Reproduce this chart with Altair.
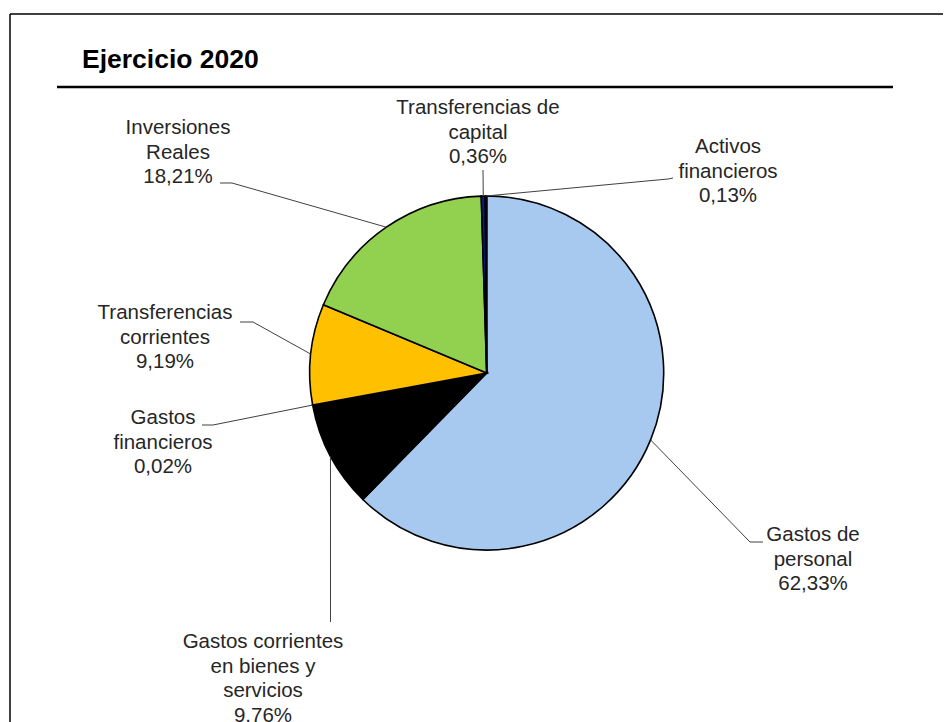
import math
import altair as alt
import pandas as pd

# ---- data ----
categories = [
    "Gastos de personal",
    "Gastos corrientes en bienes y servicios",
    "Gastos financieros",
    "Transferencias corrientes",
    "Inversiones Reales",
    "Transferencias de capital",
    "Activos financieros",
]
shares = [62.33, 9.76, 0.02, 9.19, 18.21, 0.36, 0.13]
label_lines = [
    ["Gastos de", "personal"],
    ["Gastos corrientes", "en bienes y", "servicios"],
    ["Gastos", "financieros"],
    ["Transferencias", "corrientes"],
    ["Inversiones", "Reales"],
    ["Transferencias de", "capital"],
    ["Activos", "financieros"],
]
colors = ["#A7C9EF", "#000000", "#7F7F7F", "#FFC000", "#92D050", "#0B1F8A", "#2E75B6"]
title_text = "Ejercicio 2020"

# ---- layout (view pixel units; view origin is the frame's top-left corner) ----
W, H = 933, 720
CX, CY, R = 476.7, 359.0, 177
# label first-line centres and leader elbow / end points per category
label_pos = [(803, 521), (253, 628), (153, 404), (155, 299), (168, 114), (468, 94), (718, 133)]
leader_pts = [
    [(740, 528), (753, 528)],
    [(320.5, 608), (320.5, 608)],
    [(203, 411), (192, 411)],
    [(243, 308), (230, 308)],
    [(222, 169), (210, 169)],
    [(473, 156), (473, 156)],
    [(658, 165), (663, 164)],
]

fmt = lambda v: f"{v:.2f}".replace(".", ",") + "%"

pie_df = pd.DataFrame({"cat": categories, "share": shares, "idx": range(len(categories))})

# leader lines: start on the slice edge at the slice's mid angle
rows = []
cum = 0.0
for i, (c, s) in enumerate(zip(categories, shares)):
    mid = (cum + s / 2) / 100 * 2 * math.pi
    cum += s
    sx = CX + R * math.sin(mid)
    sy = CY - R * math.cos(mid)
    pts = [(sx, sy)] + leader_pts[i]
    for k, (px, py) in enumerate(pts):
        rows.append({"cat": c, "k": k, "x": px, "y": py})
lead_df = pd.DataFrame(rows)

lab_df = pd.DataFrame({
    "cat": categories,
    "txt": ["\n".join(l + [fmt(s)]) for l, s in zip(label_lines, shares)],
    "x": [p[0] for p in label_pos],
    "y": [p[1] for p in label_pos],
})

xs = alt.Scale(domain=[0, W], nice=False, zero=False)
ys = alt.Scale(domain=[0, H], nice=False, zero=False, reverse=True)

frame_top = alt.Chart(alt.Data(values=[{}])).mark_rule(color="#000000", strokeWidth=1.5).encode(
    x=alt.value(0), x2=alt.value(W), y=alt.value(0)
)
frame_left = alt.Chart(alt.Data(values=[{}])).mark_rule(color="#000000", strokeWidth=1.5).encode(
    x=alt.value(0), y=alt.value(0), y2=alt.value(H)
)

pie = alt.Chart(pie_df).mark_arc(outerRadius=R, stroke="#000000", strokeWidth=1.6).encode(
    theta=alt.Theta("share:Q", stack=True),
    order=alt.Order("idx:Q"),
    color=alt.Color("cat:N", scale=alt.Scale(domain=categories, range=colors), legend=None),
    x=alt.value(CX),
    y=alt.value(CY),
)

leaders = alt.Chart(lead_df).mark_line(color="#404040", strokeWidth=1).encode(
    x=alt.X("x:Q", scale=xs, axis=None),
    y=alt.Y("y:Q", scale=ys, axis=None),
    detail="cat:N",
    order="k:Q",
)

labels = alt.Chart(lab_df).mark_text(
    font="Liberation Sans", fontSize=20.5, color="#262626", lineBreak="\n",
    lineHeight=24.5, align="center", baseline="middle",
).encode(
    x=alt.X("x:Q", scale=xs, axis=None),
    y=alt.Y("y:Q", scale=ys, axis=None),
    text="txt:N",
)

title = alt.Chart(alt.Data(values=[{"t": title_text}])).mark_text(
    font="Liberation Sans", fontSize=26.5, fontWeight="bold", color="#000000",
    align="left", baseline="alphabetic",
).encode(x=alt.value(72), y=alt.value(54), text="t:N")

title_rule = alt.Chart(alt.Data(values=[{}])).mark_rule(color="#000000", strokeWidth=2.5).encode(
    x=alt.value(47), x2=alt.value(883), y=alt.value(73)
)

chart = alt.layer(frame_top, frame_left, title_rule, title, pie, leaders, labels).properties(
    width=W, height=H,
    autosize=alt.AutoSizeParams(type="none"),
    padding={"left": 2, "top": 6, "right": 0, "bottom": 0},
).configure_view(strokeWidth=0)

chart.save("out.html", embed_options={"renderer": "svg", "actions": False})
